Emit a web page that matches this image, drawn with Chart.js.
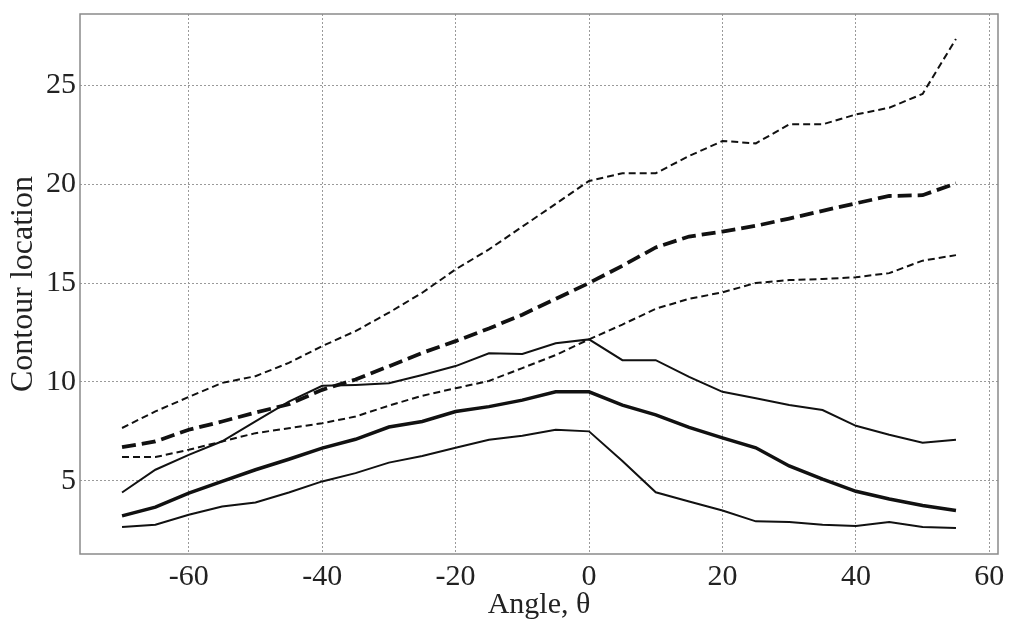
<!DOCTYPE html>
<html>
<head>
<meta charset="utf-8">
<script src="https://cdn.jsdelivr.net/npm/chart.js@4.4.1/dist/chart.umd.min.js"></script>
<style>
  html, body { margin: 0; padding: 0; background: #fff; }
  #wrap { width: 1010px; height: 625px; }
</style>
</head>
<body>
<div id="wrap"><canvas id="contourChart" width="1010" height="625"></canvas></div>
<script>
// angles (deg) and contour locations
const angles = [-70, -65, -60, -55, -50, -45, -40, -35, -30, -25, -20, -15, -10, -5, 0, 5, 10, 15, 20, 25, 30, 35, 40, 45, 50, 55];

const dashedUpper = [7.67, 8.51, 9.24, 9.95, 10.29, 10.96, 11.81, 12.57, 13.5, 14.51, 15.69, 16.7, 17.85, 19.0, 20.16, 20.55, 20.55, 21.42, 22.18, 22.06, 23.02, 23.02, 23.52, 23.86, 24.56, 27.34];
const dashedMid = [6.7, 6.99, 7.58, 8.0, 8.45, 8.87, 9.6, 10.12, 10.79, 11.47, 12.06, 12.7, 13.4, 14.2, 15.0, 15.87, 16.8, 17.35, 17.6, 17.89, 18.26, 18.65, 19.03, 19.4, 19.44, 20.04];
const dashedLower = [6.2, 6.2, 6.57, 6.99, 7.41, 7.66, 7.91, 8.25, 8.8, 9.3, 9.68, 10.05, 10.7, 11.36, 12.15, 12.9, 13.7, 14.2, 14.53, 15.0, 15.15, 15.2, 15.29, 15.5, 16.13, 16.41];

const solidUpper = [4.41, 5.56, 6.31, 7.0, 8.0, 9.0, 9.8, 9.85, 9.93, 10.35, 10.8, 11.45, 11.41, 11.95, 12.15, 11.1, 11.1, 10.25, 9.5, 9.17, 8.83, 8.58, 7.78, 7.33, 6.92, 7.08];
const solidMid = [3.23, 3.67, 4.38, 4.97, 5.56, 6.09, 6.65, 7.1, 7.72, 8.0, 8.5, 8.75, 9.08, 9.5, 9.5, 8.83, 8.33, 7.7, 7.17, 6.67, 5.75, 5.08, 4.47, 4.08, 3.75, 3.5];
const solidLower = [2.66, 2.78, 3.28, 3.7, 3.9, 4.41, 4.97, 5.39, 5.92, 6.25, 6.67, 7.08, 7.28, 7.58, 7.5, 6.0, 4.42, 3.95, 3.5, 2.95, 2.92, 2.78, 2.72, 2.92, 2.67, 2.62];

const xTicks = [-60, -40, -20, 0, 20, 40, 60];
const yTicks = [5, 10, 15, 20, 25];

const FONT = "'Liberation Serif', 'Times New Roman', serif";

function toPoints(values) {
  return values.map((v, i) => ({ x: angles[i], y: v }));
}

function line(values, width, dash) {
  return {
    data: toPoints(values),
    borderColor: "#111",
    borderWidth: width,
    borderDash: dash,
    pointRadius: 0,
    tension: 0,
    fill: false
  };
}

// box around the plot area (top + right sides too)
const frameBox = {
  id: "frameBox",
  afterDraw(chart) {
    const { ctx, chartArea: a } = chart;
    ctx.save();
    ctx.strokeStyle = "#8a8a8a";
    ctx.lineWidth = 1.5;
    ctx.strokeRect(a.left, a.top, a.right - a.left, a.bottom - a.top);
    ctx.restore();
  }
};

new Chart(document.getElementById("contourChart"), {
  type: "line",
  data: {
    datasets: [
      line(dashedUpper, 2, [7, 4]),
      line(dashedMid, 3.8, [14, 6]),
      line(dashedLower, 2, [7, 4]),
      line(solidUpper, 2, []),
      line(solidMid, 3.5, []),
      line(solidLower, 2, [])
    ]
  },
  options: {
    responsive: false,
    animation: false,
    layout: { padding: { top: 14, right: 12, left: 0, bottom: 0 } },
    plugins: { legend: { display: false }, tooltip: { enabled: false } },
    scales: {
      x: {
        type: "linear",
        min: -76.3,
        max: 61.3,
        afterBuildTicks: (scale) => { scale.ticks = xTicks.map(v => ({ value: v })); },
        afterFit: (scale) => { scale.height = 71; },
        grid: { color: "#9a9a9a", lineWidth: 1, drawTicks: false },
        border: { display: false, dash: [2, 2] },
        ticks: { color: "#222", font: { family: FONT, size: 30 }, padding: 5, maxRotation: 0 },
        title: { display: true, text: "Angle, θ", color: "#222", font: { family: FONT, size: 30 }, padding: { top: 0, bottom: 2 } }
      },
      y: {
        min: 1.3,
        max: 28.6,
        afterBuildTicks: (scale) => { scale.ticks = yTicks.map(v => ({ value: v })); },
        afterFit: (scale) => {
          scale.width = 80;
          scale.paddingTop = 0;
          scale.paddingBottom = 0;
        },
        grid: { color: "#9a9a9a", lineWidth: 1, drawTicks: false },
        border: { display: false, dash: [2, 2] },
        ticks: { color: "#222", font: { family: FONT, size: 30 }, padding: 4 },
        title: { display: true, text: "Contour location", color: "#222", font: { family: FONT, size: 32 }, padding: { top: 4, bottom: 0 } }
      }
    }
  },
  plugins: [frameBox]
});
</script>
</body>
</html>
